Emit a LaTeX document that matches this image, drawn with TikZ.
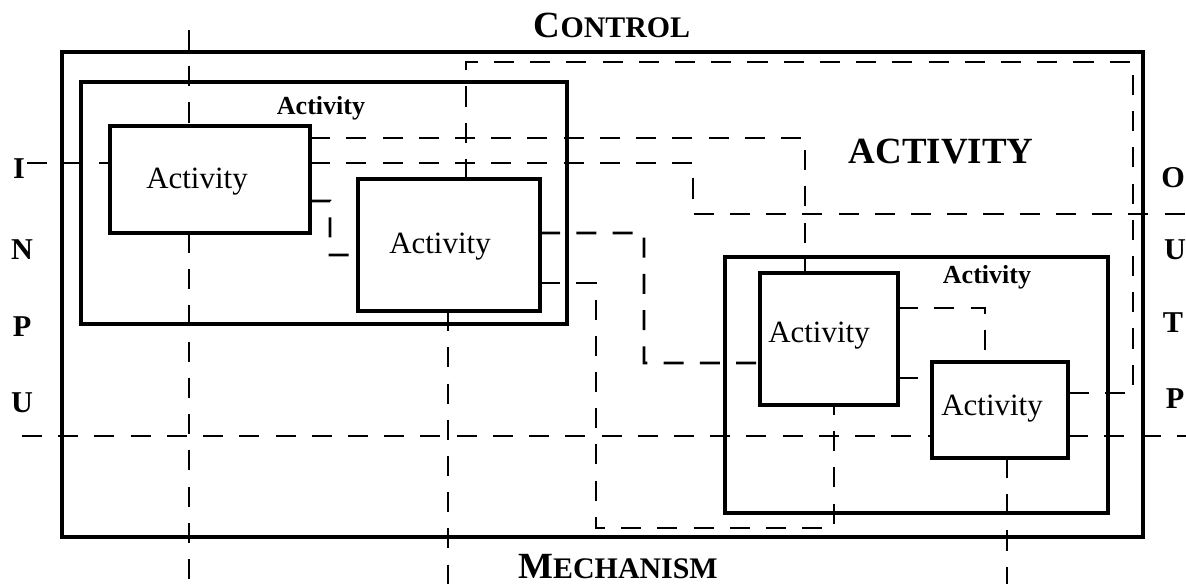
\documentclass[tikz,border=0pt]{standalone}
\usepackage{fontspec}
\setmainfont{Liberation Serif}
\usetikzlibrary{calc}

\begin{document}
\begin{tikzpicture}[x=0.01cm, y=-0.01cm,
		ramme/.style={draw, line width=1.1pt, outer sep=0pt, inner sep=0pt},
		pil/.style={line width=0.75pt, dash pattern=on 5.7pt off 4.6pt},
		tekst/.style={anchor=base, inner sep=0pt, font=\fontsize{8.8}{10}\selectfont},
		fettekst/.style={anchor=base, inner sep=0pt, font=\bfseries\fontsize{7.4}{9}\selectfont},
		bokstav/.style={inner sep=0pt, font=\bfseries\fontsize{8.6}{10}\selectfont}]
		\useasboundingbox (0,0) rectangle (1186,584);

		% Ytre ramme og overskrifter
		\node[ramme, minimum width=10.81cm, minimum height=4.85cm] (ytre) at (602.5,294.5) {};
		\node[anchor=base, inner sep=0pt, font=\bfseries] (kontroll) at (612,37)
			{{\fontsize{10.5}{12}\selectfont C}{\fontsize{8.5}{10}\selectfont ONTROL}};
		\node[anchor=base, inner sep=0pt, font=\bfseries] (mekanisme) at (618,578)
			{{\fontsize{10.5}{12}\selectfont M}{\fontsize{8.5}{10}\selectfont ECHANISM}};
		\node[anchor=base, inner sep=0pt, font=\bfseries\fontsize{10.5}{12}\selectfont] (hoved) at (941,163) {ACTIVITY};

		% Bokstaver for input og output
		\node[bokstav] (i1) at (19,169) {I};
		\node[bokstav] (i2) at (22,250) {N};
		\node[bokstav] (i3) at (22,327) {P};
		\node[bokstav] (i4) at (22,403) {U};
		\node[bokstav] (o1) at (1173,178) {O};
		\node[bokstav] (o2) at (1175,250) {U};
		\node[bokstav] (o3) at (1173,323) {T};
		\node[bokstav] (o4) at (1175,399) {P};

		% Indre rammer
		\node[ramme, minimum width=4.86cm, minimum height=2.42cm] (gruppeA) at (324,203) {};
		\node[fettekst] (tittelA) at (321,114) {Activity};
		\node[ramme, minimum width=3.83cm, minimum height=2.56cm] (gruppeB) at (916.5,385) {};
		\node[fettekst] (tittelB) at (987,283) {Activity};

		% Aktiviteter
		\node[ramme, minimum width=2.00cm, minimum height=1.07cm] (a1) at (210,179.5) {};
		\node[tekst] (t1) at (197,188) {Activity};
		\node[ramme, minimum width=1.82cm, minimum height=1.32cm] (a2) at (449,245) {};
		\node[tekst] (t2) at (440,253) {Activity};
		\node[ramme, minimum width=1.38cm, minimum height=1.32cm] (a3) at (829,339) {};
		\node[tekst] (t3) at (819,342) {Activity};
		\node[ramme, minimum width=1.36cm, minimum height=0.96cm] (a4) at (1000,410) {};
		\node[tekst] (t4) at (992,415) {Activity};

		% Frie endepunkter
		\coordinate (kA) at (189,30);
		\coordinate (mA) at (189,584);
		\coordinate (mB) at (448,584);
		\coordinate (mD) at (1007,584);
		\coordinate (inA) at (27,163);
		\coordinate (inB) at (22,436);
		\coordinate (utA) at (1186,214);
		\coordinate (utB) at (1186,436);

		% Piler (stiplet)
		\draw[pil] (kA) -- (kA |- a1.north);
		\draw[pil] (kA |- a1.south) -- (mA);
		\draw[pil] (inA) -- (inA -| a1.west);
		\draw[pil] ($(a1.north east)+(0,12)$) -| ($(a3.north)+(-24,0)$);
		\draw[pil] ($(a1.north east)+(0,37)$) -| (693,214) -- (utA);
		\draw[pil] ($(a1.south east)+(0,-32)$) -| (330,255) -- ($(a2.north west)+(0,76)$);
		\draw[pil] ($(a2.north)+(17,0)$) |- (1133,62) |- ($(a4.north east)+(0,31)$);
		\draw[pil] ($(a2.north east)+(0,54)$) -| (644,363) -- ($(a3.north west)+(0,90)$);
		\draw[pil] ($(a2.south east)+(0,-28)$) -| (596,528) -| ($(a3.south)+(5,0)$);
		\draw[pil] (mB |- a2.south) -- (mB);
		\draw[pil] ($(a3.north east)+(0,35)$) -| ($(a4.north west)+(53,0)$);
		\draw[pil] ($(a3.south east)+(0,-27)$) coordinate (p) -- (p -| a4.west);
		\draw[pil] (inB) -- (inB -| a4.west);
		\draw[pil] (utB -| a4.east) -- (utB);
		\draw[pil] (mD |- a4.south) -- (mD);
	\end{tikzpicture}
\end{document}
